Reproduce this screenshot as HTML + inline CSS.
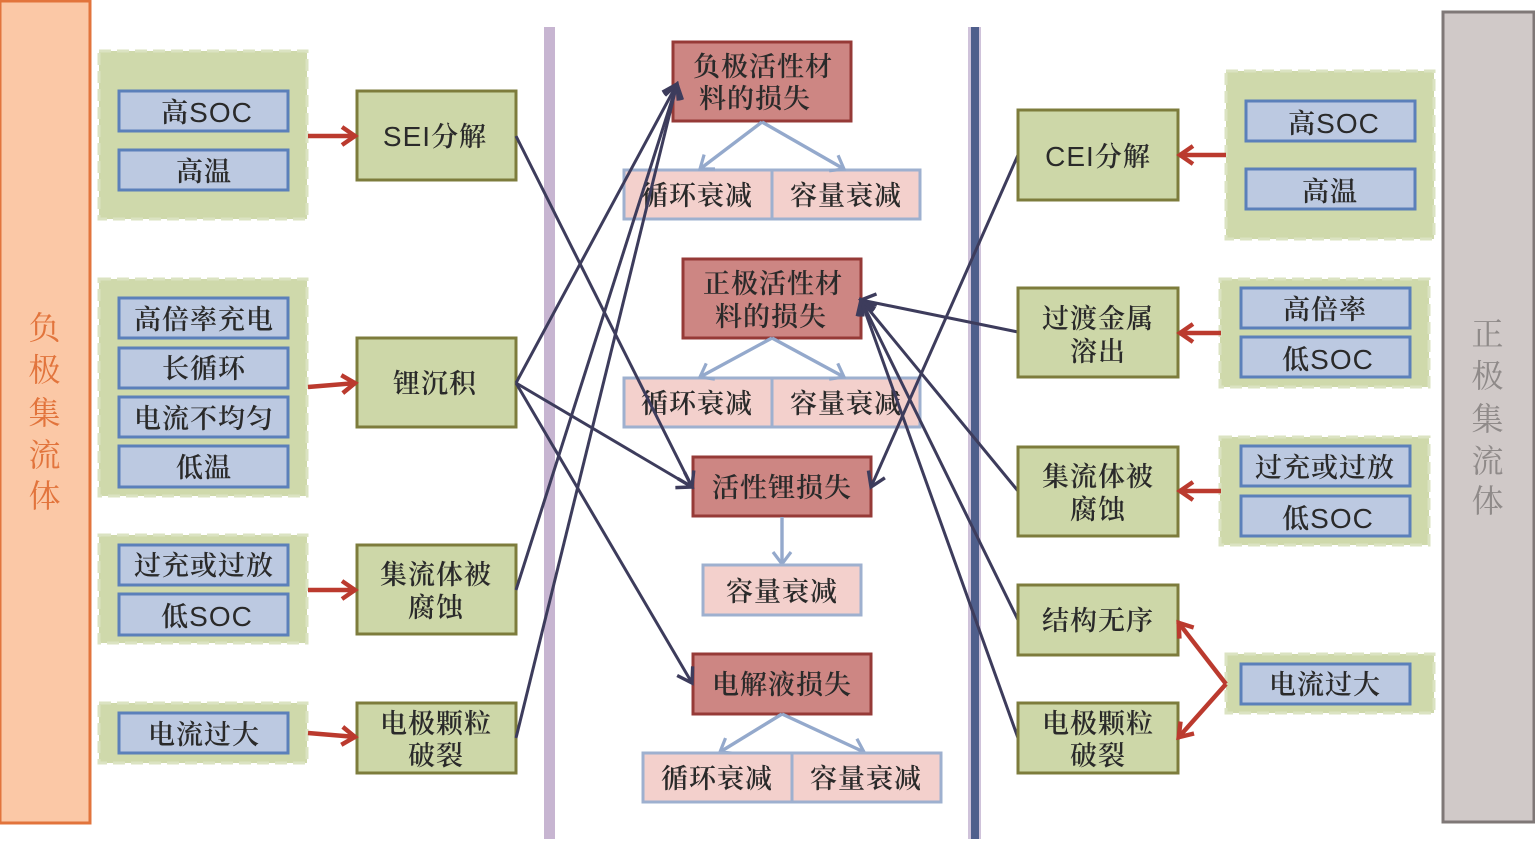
<!DOCTYPE html>
<html><head><meta charset="utf-8">
<style>
html,body{margin:0;padding:0;background:#fff;width:1535px;height:854px;overflow:hidden}
svg{display:block;position:absolute;left:0;top:0}
text{font-family:"Liberation Sans","Noto Serif CJK SC",serif;font-size:27px;fill:#2a2a2a;text-anchor:middle;letter-spacing:1px;font-weight:600}
tspan{font-weight:400;font-size:28px}
.g{fill:#cdd7a8;stroke:#7d7c3c;stroke-width:3}
.b{fill:#bcc9e1;stroke:#5b80ba;stroke-width:3}
.z{fill:#cfd9ab;stroke:#dbe3c2;stroke-width:3;stroke-dasharray:12 6}
.r{fill:#cd8683;stroke:#963a37;stroke-width:3}
.p{fill:#f3d0cc;stroke:#9eb0cf;stroke-width:3}
.dk{stroke:#3d3c5c;stroke-width:3;fill:none;marker-end:url(#ma)}
.rd{stroke:#bb3a2e;stroke-width:4.4;fill:none;marker-end:url(#mr)}
.lb{stroke:#94a9cc;stroke-width:3.4;fill:none;marker-end:url(#ml)}
.s{font-size:32px;font-weight:400}
</style></head><body>
<svg width="1535" height="854" viewBox="0 0 1535 854" xmlns="http://www.w3.org/2000/svg">
<defs>
<marker id="ma" markerUnits="userSpaceOnUse" markerWidth="28" markerHeight="28" refX="23" refY="14" orient="auto"><path d="M9 5L23 14L9 23" fill="none" stroke="#3d3c5c" stroke-width="3.4"/></marker>
<marker id="mr" markerUnits="userSpaceOnUse" markerWidth="28" markerHeight="28" refX="23" refY="14" orient="auto"><path d="M9 5L22 14L9 23" fill="none" stroke="#bb3a2e" stroke-width="4.4"/></marker>
<marker id="ml" markerUnits="userSpaceOnUse" markerWidth="28" markerHeight="28" refX="22" refY="14" orient="auto"><path d="M10 5L22 14L10 23" fill="none" stroke="#94a9cc" stroke-width="3.2"/></marker>
</defs>

<!-- side bars -->
<rect x="0" y="1" width="90" height="822" fill="#fbc8a6" stroke="#e2743c" stroke-width="3"/>
<rect x="1443" y="12" width="91" height="810" fill="#d0c9c8" stroke="#7f7877" stroke-width="3"/>
<text class="s" x="45" y="339" style="fill:#e2743c">负</text>
<text class="s" x="45" y="381" style="fill:#e2743c">极</text>
<text class="s" x="45" y="424" style="fill:#e2743c">集</text>
<text class="s" x="45" y="466" style="fill:#e2743c">流</text>
<text class="s" x="45" y="507" style="fill:#e2743c">体</text>
<text class="s" x="1488" y="345" style="fill:#8f8a89">正</text>
<text class="s" x="1488" y="387" style="fill:#8f8a89">极</text>
<text class="s" x="1488" y="430" style="fill:#8f8a89">集</text>
<text class="s" x="1488" y="472" style="fill:#8f8a89">流</text>
<text class="s" x="1488" y="512" style="fill:#8f8a89">体</text>

<!-- dividers -->
<rect x="544" y="27" width="11" height="812" fill="#c7b5d1"/>
<rect x="968" y="27" width="13" height="812" fill="#cfc2da"/>
<rect x="971" y="27" width="8" height="812" fill="#4f5f8c"/>

<!-- left zones -->
<rect class="z" x="99" y="51" width="208" height="168"/>
<rect class="b" x="119" y="91" width="169" height="40"/><text x="207" y="122">高<tspan>SOC</tspan></text>
<rect class="b" x="119" y="150" width="169" height="40"/><text x="204" y="181">高温</text>

<rect class="z" x="99" y="279" width="208" height="217"/>
<rect class="b" x="119" y="298" width="169" height="40"/><text x="204" y="329">高倍率充电</text>
<rect class="b" x="119" y="348" width="169" height="40"/><text x="204" y="378">长循环</text>
<rect class="b" x="119" y="397" width="169" height="40"/><text x="204" y="428">电流不均匀</text>
<rect class="b" x="119" y="446" width="169" height="41"/><text x="204" y="477">低温</text>

<rect class="z" x="99" y="535" width="208" height="108"/>
<rect class="b" x="119" y="545" width="169" height="40"/><text x="204" y="575">过充或过放</text>
<rect class="b" x="119" y="594" width="169" height="41"/><text x="207" y="626">低<tspan>SOC</tspan></text>

<rect class="z" x="99" y="703" width="208" height="60"/>
<rect class="b" x="119" y="713" width="169" height="40"/><text x="204" y="744">电流过大</text>

<!-- left green -->
<rect class="g" x="357" y="91" width="159" height="89"/><text x="435" y="146"><tspan>SEI</tspan>分解</text>
<rect class="g" x="357" y="338" width="159" height="89"/><text x="435" y="393">锂沉积</text>
<rect class="g" x="357" y="545" width="159" height="89"/><text x="436" y="584">集流体被</text><text x="436" y="617">腐蚀</text>
<rect class="g" x="357" y="703" width="159" height="70"/><text x="436" y="733">电极颗粒</text><text x="436" y="765">破裂</text>

<!-- red arrows left -->
<line class="rd" x1="308" y1="136" x2="356" y2="136"/>
<line class="rd" x1="308" y1="387" x2="356" y2="383"/>
<line class="rd" x1="308" y1="590" x2="356" y2="590"/>
<line class="rd" x1="308" y1="733" x2="356" y2="737"/>

<!-- center -->
<rect class="p" x="624" y="170" width="148" height="49"/>
<rect class="p" x="772" y="170" width="148" height="49"/>
<text x="697" y="205">循环衰减</text><text x="846" y="205">容量衰减</text>
<rect class="r" x="673" y="42" width="178" height="79"/>
<text x="763" y="76">负极活性材</text><text x="755" y="108">料的损失</text>
<line class="lb" x1="762" y1="122" x2="700" y2="169"/>
<line class="lb" x1="762" y1="122" x2="844" y2="169"/>

<rect class="p" x="624" y="378" width="148" height="49"/>
<rect class="p" x="772" y="378" width="148" height="49"/>
<text x="697" y="413">循环衰减</text><text x="846" y="413">容量衰减</text>
<rect class="r" x="683" y="259" width="178" height="79"/>
<text x="773" y="293">正极活性材</text><text x="771" y="326">料的损失</text>
<line class="lb" x1="772" y1="338" x2="700" y2="377"/>
<line class="lb" x1="772" y1="338" x2="844" y2="377"/>

<rect class="r" x="693" y="457" width="178" height="59"/>
<text x="782" y="497">活性锂损失</text>
<line class="lb" x1="782" y1="517" x2="782" y2="564"/>
<rect class="p" x="703" y="565" width="158" height="50"/>
<text x="782" y="601">容量衰减</text>

<rect class="r" x="693" y="654" width="178" height="60"/>
<text x="782" y="694">电解液损失</text>
<line class="lb" x1="782" y1="714" x2="720" y2="752"/>
<line class="lb" x1="782" y1="714" x2="864" y2="752"/>
<rect class="p" x="643" y="753" width="149" height="49"/>
<rect class="p" x="792" y="753" width="149" height="49"/>
<text x="717" y="788">循环衰减</text><text x="866" y="788">容量衰减</text>

<!-- dark connectors -->
<line class="dk" x1="516" y1="136" x2="692" y2="487"/>
<line class="dk" x1="516" y1="383" x2="677" y2="84"/>
<line class="dk" x1="516" y1="383" x2="692" y2="487"/>
<line class="dk" x1="516" y1="383" x2="692" y2="683"/>
<line class="dk" x1="516" y1="590" x2="677" y2="84"/>
<line class="dk" x1="516" y1="738" x2="677" y2="84"/>
<line class="dk" x1="1018" y1="155" x2="871" y2="487"/>
<line class="dk" x1="1018" y1="332" x2="861" y2="300"/>
<line class="dk" x1="1018" y1="491" x2="861" y2="300"/>
<line class="dk" x1="1018" y1="620" x2="861" y2="300"/>
<line class="dk" x1="1018" y1="738" x2="861" y2="300"/>

<!-- right green -->
<rect class="g" x="1018" y="110" width="160" height="90"/><text x="1098" y="166"><tspan>CEI</tspan>分解</text>
<rect class="g" x="1018" y="288" width="160" height="89"/><text x="1098" y="328">过渡金属</text><text x="1098" y="361">溶出</text>
<rect class="g" x="1018" y="447" width="160" height="89"/><text x="1098" y="486">集流体被</text><text x="1098" y="519">腐蚀</text>
<rect class="g" x="1018" y="585" width="160" height="70"/><text x="1098" y="630">结构无序</text>
<rect class="g" x="1018" y="703" width="160" height="70"/><text x="1098" y="733">电极颗粒</text><text x="1098" y="765">破裂</text>

<!-- right zones -->
<rect class="z" x="1226" y="71" width="208" height="168"/>
<rect class="b" x="1246" y="101" width="169" height="40"/><text x="1334" y="133">高<tspan>SOC</tspan></text>
<rect class="b" x="1246" y="169" width="169" height="40"/><text x="1330" y="201">高温</text>

<rect class="z" x="1220" y="279" width="209" height="108"/>
<rect class="b" x="1241" y="288" width="169" height="40"/><text x="1325" y="319">高倍率</text>
<rect class="b" x="1241" y="337" width="169" height="40"/><text x="1328" y="369">低<tspan>SOC</tspan></text>

<rect class="z" x="1220" y="437" width="209" height="108"/>
<rect class="b" x="1241" y="446" width="169" height="40"/><text x="1325" y="477">过充或过放</text>
<rect class="b" x="1241" y="496" width="169" height="40"/><text x="1328" y="528">低<tspan>SOC</tspan></text>

<rect class="z" x="1226" y="654" width="208" height="59"/>
<rect class="b" x="1241" y="664" width="169" height="40"/><text x="1325" y="694">电流过大</text>

<!-- red arrows right -->
<line class="rd" x1="1226" y1="155" x2="1179" y2="155"/>
<line class="rd" x1="1221" y1="333" x2="1179" y2="333"/>
<line class="rd" x1="1221" y1="491" x2="1179" y2="491"/>
<line class="rd" x1="1226" y1="684" x2="1178" y2="622"/>
<line class="rd" x1="1226" y1="684" x2="1178" y2="738"/>
</svg>
</body></html>
